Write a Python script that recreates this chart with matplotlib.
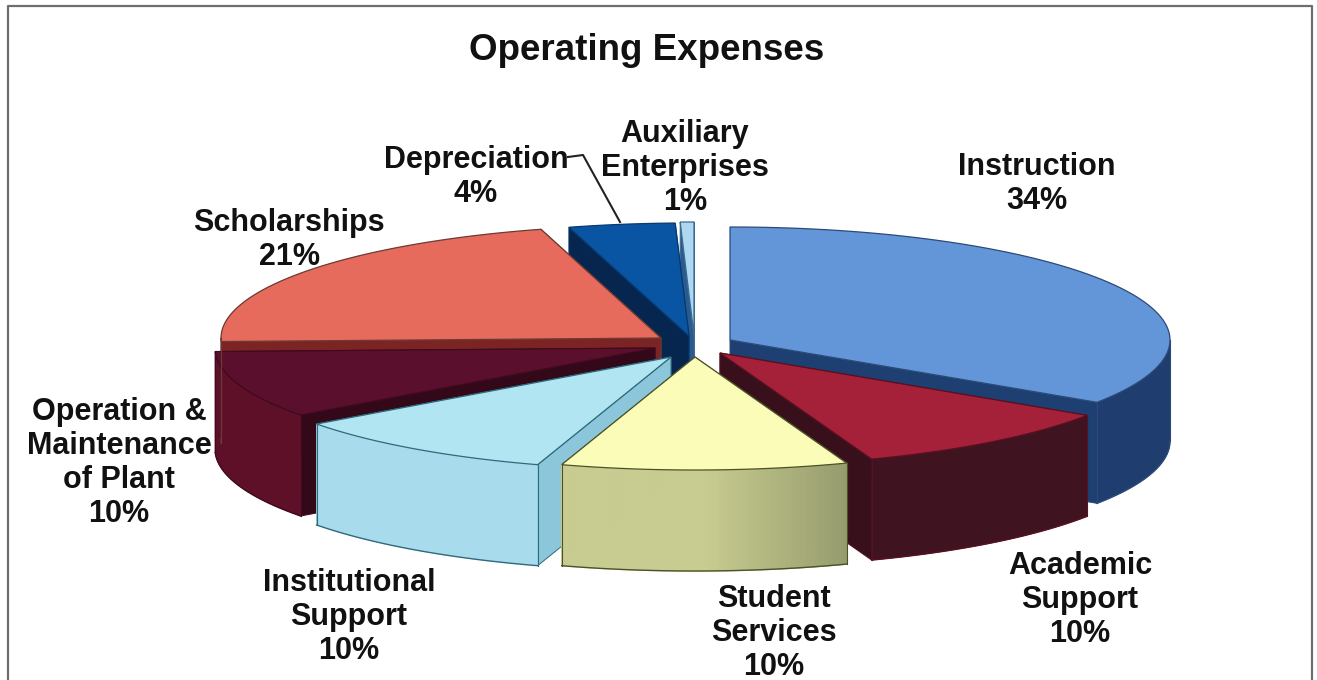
import numpy as np
import matplotlib
matplotlib.use("Agg")
import matplotlib.pyplot as plt
from matplotlib.collections import PolyCollection
from matplotlib.colors import to_rgb

# Datos del grafico (orden horario desde arriba)
names = ["Instruction", "Academic\nSupport", "Student\nServices", "Institutional\nSupport",
         "Operation &\nMaintenance\nof Plant", "Scholarships", "Depreciation", "Auxiliary\nEnterprises"]
pct_labels = ["34%", "10%", "10%", "10%", "10%", "21%", "4%", "1%"]
values = [34.3, 10.1, 10.5, 10.0, 9.6, 21.1, 3.9, 0.5]

# Estilo de cada porcion
top_colors = ["#6296d8", "#a5213a", "#fafcb8", "#b2e5f2", "#5a102c", "#e66b5c", "#0a54a4", "#aed8f2"]
rim_left = ["#1f3d6e", "#3f1420", "#c8cc90", "#a8dcec", "#5e1029", "#7c2424", "#06264f", "#2a5a90"]
rim_right = ["#1f3d6e", "#3f1420", "#969c6e", "#a8dcec", "#5e1029", "#7c2424", "#06264f", "#2a5a90"]
side_colors = ["#1d3f72", "#38101c", "#98a06e", "#8cc6da", "#33091a", "#7c2424", "#06264f", "#2a5a90"]
edge_colors = ["#2c4a78", "#5a1020", "#4c5228", "#2f6a7c", "#40091f", "#6a3a34", "#063a70", "#3a6a90"]
offset_x = [40, 30, 5, -19, -35, -29, -1, 4]
offset_y = [-5, 8, 12, 12, 3, -7, -9, -10]
draw_order = [7, 6, 5, 0, 4, 3, 1, 2]

# Geometria del pastel
cx, cy = 690, 345
rx, ry = 440, 113
depth = 101

label_x = [1037, 1080, 774, 349, 119, 289, 476, 685]
label_y = [184, 600, 633, 617, 463, 240, 177, 168]

fig = plt.figure(figsize=(13.17, 6.8), dpi=100)
ax = plt.axes([0, 0, 1, 1])
ax.set_xlim(0, 1317)
ax.set_ylim(680, 0)
ax.axis("off")

# Marco exterior
ax.plot([8, 8, 1312, 1312], [690, 6, 6, 690], color="#6e6e6e", lw=1.6)

bounds = np.cumsum([0] + values) / sum(values) * 360


def rim_points(i, t):
    a = np.radians(t)
    x = cx + offset_x[i] + rx * np.sin(a)
    y = cy + offset_y[i] - ry * np.cos(a)
    return x, y


for i in draw_order:
    t0, t1 = bounds[i], bounds[i + 1]
    ax_x = cx + offset_x[i]
    ax_y = cy + offset_y[i]
    ts = np.linspace(t0, t1, 80)
    xs, ys = rim_points(i, ts)

    # Caras radiales: la visible se dibuja al final
    faces = [0, -1] if (t0 + t1) / 2 < 180 else [-1, 0]
    for k in faces:
        quad = [(ax_x, ax_y), (xs[k], ys[k]), (xs[k], ys[k] + depth), (ax_x, ax_y + depth)]
        ax.fill(*zip(*quad), facecolor=side_colors[i], edgecolor=edge_colors[i], lw=0.7)

    # Borde exterior, solo la parte que mira al frente
    lo, hi = max(t0, 90), min(t1, 270)
    if hi > lo:
        tr = np.linspace(lo, hi, 60)
        rxs, rys = rim_points(i, tr)
        if rim_left[i] == rim_right[i]:
            ax.fill(np.r_[rxs, rxs[::-1]], np.r_[rys, rys[::-1] + depth],
                    facecolor=rim_left[i], edgecolor=rim_left[i], lw=0.5)
        else:
            quads = []
            cols = []
            c0 = np.array(to_rgb(rim_left[i]))
            c1 = np.array(to_rgb(rim_right[i]))
            for j in range(len(tr) - 1):
                quads.append([(rxs[j], rys[j]), (rxs[j + 1], rys[j + 1]),
                              (rxs[j + 1], rys[j + 1] + depth), (rxs[j], rys[j] + depth)])
                f = min(1, 2 * j / (len(tr) - 2))
                # el lado derecho queda mas oscuro (t bajo)
                cols.append(c1 * (1 - f) + c0 * f)
            ax.add_collection(PolyCollection(quads, facecolors=cols, edgecolors=cols, linewidths=1.0))
        ax.plot(rxs, rys + depth, color=edge_colors[i], lw=1.0)
        ax.plot([rxs[0], rxs[0]], [rys[0], rys[0] + depth], color=edge_colors[i], lw=0.8)
        ax.plot([rxs[-1], rxs[-1]], [rys[-1], rys[-1] + depth], color=edge_colors[i], lw=0.8)

    # Cara superior
    px = np.r_[ax_x, xs]
    py = np.r_[ax_y, ys]
    ax.fill(px, py, facecolor=top_colors[i], edgecolor=edge_colors[i], lw=0.9)

# Linea guia de Depreciation
ax.plot([568, 583, 620], [157, 155, 222], color="#222222", lw=1.5)

font = ["Liberation Sans", "DejaVu Sans"]
ax.text(647, 51, "Operating Expenses", ha="center", va="center", fontsize=26.5,
        fontweight="bold", family=font, color="#111111")
for i in range(len(names)):
    ax.text(label_x[i], label_y[i], names[i] + "\n" + pct_labels[i], ha="center", va="center",
            fontsize=22, fontweight="bold", family=font, color="#111111", linespacing=1.17)

fig.savefig("out.png", dpi=100)
